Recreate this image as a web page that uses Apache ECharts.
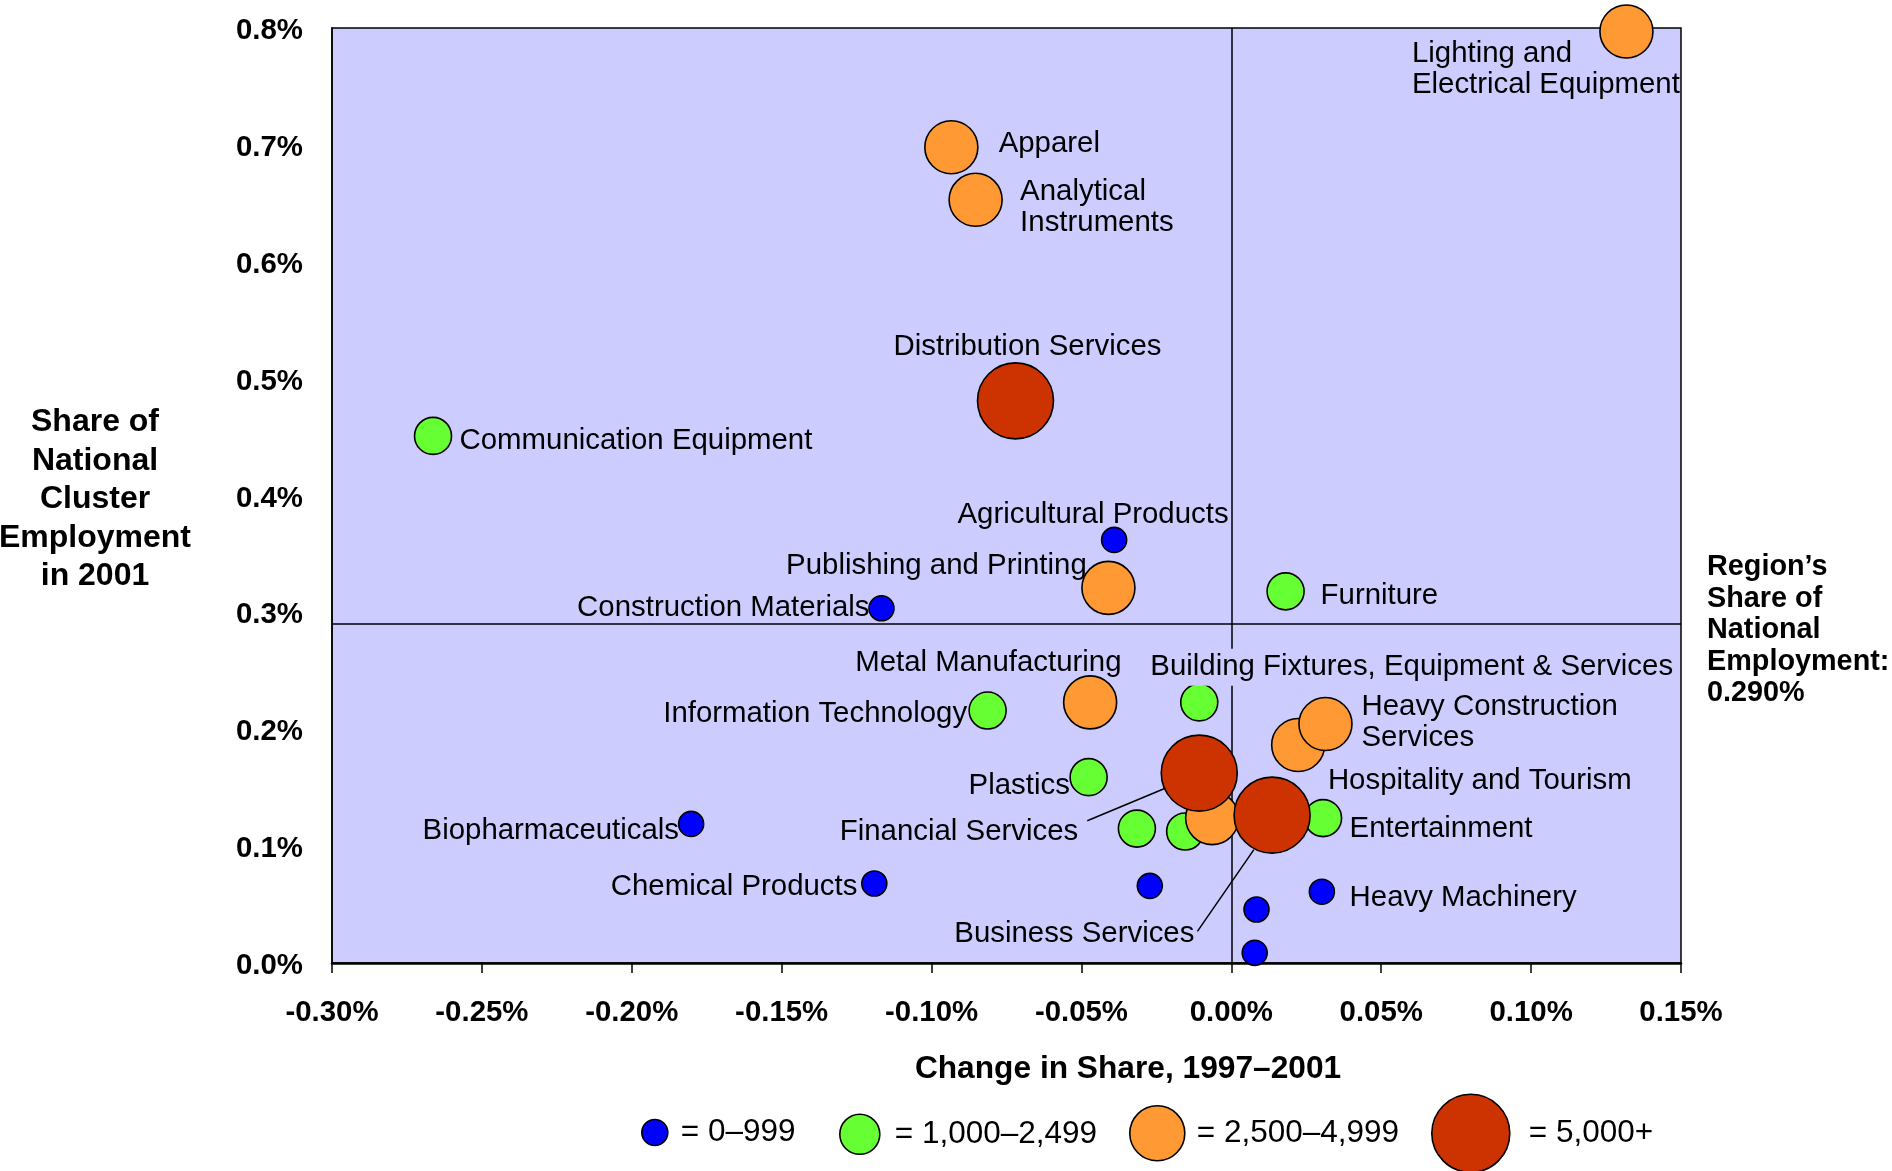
<!DOCTYPE html>
<html>
<head>
<meta charset="utf-8">
<script src="https://cdn.jsdelivr.net/npm/echarts@6/dist/echarts.min.js"></script>
<style>
  html, body { margin: 0; padding: 0; background: #ffffff; }
  #chart { width: 1892px; height: 1171px; }
</style>
</head>
<body>
<div id="chart"></div>
<script>
// ---------------- DATA ----------------
const clusterNames = [
  'Lighting and\nElectrical Equipment', 'Apparel', 'Analytical\nInstruments',
  'Distribution Services', 'Communication Equipment', 'Agricultural Products',
  'Publishing and Printing', 'Construction Materials', 'Furniture',
  'Metal Manufacturing', 'Building Fixtures, Equipment & Services',
  'Information Technology', 'Hospitality and Tourism', 'Heavy Construction\nServices',
  'Plastics', 'Financial Services', '', 'Business Services', '', '',
  'Entertainment', 'Biopharmaceuticals', 'Chemical Products', '',
  'Heavy Machinery', '', ''
];
// Change in share 1997-2001 (percentage points)
const changeInShare = [
  0.1318, -0.0934, -0.0853,
  -0.0720, -0.2663, -0.0391,
  -0.0410, -0.1167, 0.0181,
  -0.0471, -0.0107,
  -0.0813, 0.0223, 0.0314,
  -0.0476, -0.0107, -0.0064, 0.0136, -0.0315, -0.0154,
  0.0306, -0.1802, -0.1191, -0.0272,
  0.0302, 0.0084, 0.0078
];
// Share of national cluster employment in 2001 (%)
const shareOfNational = [
  0.797, 0.698, 0.653,
  0.481, 0.451, 0.362,
  0.321, 0.3035, 0.318,
  0.223, 0.223,
  0.216, 0.1865, 0.2045,
  0.159, 0.1625, 0.124, 0.1265, 0.115, 0.1125,
  0.124, 0.119, 0.068, 0.066,
  0.061, 0.0458, 0.0087
];
// Employment size class index (0: 0-999, 1: 1,000-2,499, 2: 2,500-4,999, 3: 5,000+)
const sizeClass = [
  2, 2, 2,
  3, 1, 0,
  2, 0, 1,
  2, 1,
  1, 2, 2,
  1, 3, 2, 3, 1, 1,
  1, 0, 0, 0,
  0, 0, 0
];
const sizeClassLabels = ['0\u2013999', '1,000\u20132,499', '2,500\u20134,999', '5,000+'];
const regionShare = 0.29;
const xMin = -0.30, xMax = 0.15, xStep = 0.05;
const yMin = 0, yMax = 0.8, yStep = 0.1;

// ---------------- STYLE ----------------
const FONT = '"Liberation Sans", Arial, Helvetica, sans-serif';
const classColors = ['#0000FF', '#66FF33', '#FF9933', '#CC3300'];
const classSizes = [25, 37, 53, 76];
const legendSizes = [26, 40, 55, 78];
const legendLeft = [641, 839, 1129, 1431];
const legendTextGap = [8, 10, 7, 14];
const legendTopCenter = [1132, 1133.5, 1132.5, 1132.5];
const LABEL_DY = 2.4;

// label placement: [align, dx, dy] relative to bubble centre (pixels)
const labelPlacement = {
  'Lighting and\nElectrical Equipment': ['left', -214.5, 35],
  'Apparel': ['left', 47.3, -6],
  'Analytical\nInstruments': ['left', 44.5, 5.5],
  'Distribution Services': ['center', 12, -56.5],
  'Communication Equipment': ['left', 26.5, 2.2],
  'Agricultural Products': ['right', 114.5, -27.7],
  'Publishing and Printing': ['right', -21.7, -24.1],
  'Construction Materials': ['right', -12, -2.4],
  'Furniture': ['left', 35, 2.5],
  'Metal Manufacturing': ['right', 31.4, -42.2],
  'Building Fixtures, Equipment & Services': ['left', -48.9, -37.4],
  'Information Technology': ['right', -20.5, 1.3],
  'Hospitality and Tourism': ['left', 29.7, 33.4],
  'Heavy Construction\nServices': ['left', 36, -3.6],
  'Plastics': ['right', -18.8, 6.1],
  'Financial Services': ['right', -121, 56],
  'Business Services': ['right', -77.7, 116.2],
  'Entertainment': ['left', 26.5, 8.5],
  'Biopharmaceuticals': ['right', -12.1, 4.9],
  'Chemical Products': ['right', -16.9, 1.2],
  'Heavy Machinery': ['left', 27.7, 3.7]
};
// leader lines: [name, startDx, startDy, endDx, endDy]
const leaderLines = [
  ['Financial Services', -112, 47.7, -34, 15.2],
  ['Business Services', -74.7, 116.2, -18.2, 34.5]
];

function buildItem(i) {
  const name = clusterNames[i];
  const item = { name: name, value: [changeInShare[i], shareOfNational[i]] };
  const pl = labelPlacement[name];
  if (pl) {
    const lab = {
      show: true,
      position: 'inside',
      align: pl[0],
      verticalAlign: 'middle',
      offset: [pl[1], pl[2] + LABEL_DY],
      formatter: '{b}'
    };
    if (name.indexOf('Building Fixtures') === 0) {
      lab.backgroundColor = '#CCCCFF';
      lab.padding = [3, 0, 3, 0];
    }
    item.label = lab;
  } else {
    item.label = { show: false };
  }
  return item;
}

const series = sizeClassLabels.map(function (lbl, c) {
  const data = [];
  for (let i = 0; i < clusterNames.length; i++) {
    if (sizeClass[i] === c) data.push(buildItem(i));
  }
  return {
    type: 'scatter',
    name: lbl,
    z: 2,
    symbol: 'circle',
    symbolSize: classSizes[c],
    itemStyle: { color: classColors[c], borderColor: '#000', borderWidth: 1.6, opacity: 1 },
    label: {
      color: '#000', fontFamily: FONT, fontSize: 29.4, lineHeight: 31
    },
    emphasis: { disabled: true },
    data: data
  };
});

// quadrant reference lines
series.push({
  type: 'scatter',
  name: '__ref',
  data: [],
  silent: true,
  markLine: {
    z: 1,
    silent: true,
    symbol: 'none',
    animation: false,
    label: { show: false },
    lineStyle: { color: '#000', width: 1.5, type: 'solid' },
    data: [{ xAxis: 0 }, { yAxis: regionShare }]
  }
});

const legends = sizeClassLabels.map(function (lbl, c) {
  const s = legendSizes[c];
  const rowH = Math.max(s, 31);
  return {
    data: [lbl],
    left: legendLeft[c],
    top: legendTopCenter[c] - rowH / 2,
    itemWidth: s,
    itemHeight: s,
    icon: 'circle',
    selectedMode: false,
    padding: 0,
    formatter: '= {name}',
    itemStyle: { borderColor: '#000', borderWidth: 1.6 },
    textStyle: { fontSize: 31.5, fontFamily: FONT, color: '#000', padding: [0, 0, 0, legendTextGap[c]] }
  };
});

const chart = echarts.init(document.getElementById('chart'), null, { renderer: 'canvas' });

const option = {
  animation: false,
  backgroundColor: '#ffffff',
  grid: {
    left: 332, right: 211, top: 28, bottom: 208,
    show: true, backgroundColor: '#CCCCFF', borderColor: '#000', borderWidth: 1.5,
    containLabel: false, outerBoundsMode: 'none'
  },
  xAxis: {
    type: 'value', min: xMin, max: xMax, interval: xStep,
    axisLine: { show: true, onZero: false, lineStyle: { color: '#000', width: 2.5 } },
    axisTick: { show: true, inside: false, length: 10, lineStyle: { color: '#000', width: 1.5 } },
    splitLine: { show: false },
    axisLabel: {
      margin: 35.5, color: '#000', fontFamily: FONT, fontWeight: 'bold', fontSize: 29.4,
      formatter: function (v) { return v.toFixed(2) + '%'; }
    }
  },
  yAxis: {
    type: 'value', min: yMin, max: yMax, interval: yStep,
    axisLine: { show: true, onZero: false, lineStyle: { color: '#000', width: 1.5 } },
    axisTick: { show: false },
    splitLine: { show: false },
    axisLabel: {
      margin: 29, color: '#000', fontFamily: FONT, fontWeight: 'bold', fontSize: 29.4,
      formatter: function (v) { return '{t|' + v.toFixed(1) + '%}'; },
      rich: {
        t: { fontFamily: FONT, fontWeight: 'bold', fontSize: 29.4, color: '#000', padding: [6, 0, 0, 0] }
      }
    }
  },
  legend: legends,
  series: series,
  graphic: [
    {
      id: 'ytitle', type: 'text', silent: true,
      style: {
        text: 'Share of\nNational\nCluster\nEmployment\nin 2001',
        x: 95, y: 499.5, textAlign: 'center', textVerticalAlign: 'middle',
        fill: '#000', fontFamily: FONT, fontWeight: 'bold', fontSize: 32, lineHeight: 38.5
      }
    },
    {
      id: 'xtitle', type: 'text', silent: true,
      style: {
        text: 'Change in Share, 1997\u20132001',
        x: 1128, y: 1069.5, textAlign: 'center', textVerticalAlign: 'middle',
        fill: '#000', fontFamily: FONT, fontWeight: 'bold', fontSize: 31.7
      }
    },
    {
      id: 'regiontitle', type: 'text', silent: true,
      style: {
        text: 'Region\u2019s\nShare of\nNational\nEmployment:\n' + regionShare.toFixed(3) + '%',
        x: 1707, y: 630.5, textAlign: 'left', textVerticalAlign: 'middle',
        fill: '#000', fontFamily: FONT, fontWeight: 'bold', fontSize: 28.8, lineHeight: 31.5
      }
    }
  ]
};
chart.setOption(option);

// leader lines anchored to their data points via the axes
const leaderGraphics = leaderLines.map(function (ll, k) {
  const idx = clusterNames.indexOf(ll[0]);
  const p = chart.convertToPixel({ xAxisIndex: 0, yAxisIndex: 0 }, [changeInShare[idx], shareOfNational[idx]]);
  return {
    id: 'leader' + k, type: 'line', silent: true, z: 10,
    shape: { x1: p[0] + ll[1], y1: p[1] + ll[2], x2: p[0] + ll[3], y2: p[1] + ll[4] },
    style: { stroke: '#000', lineWidth: 1.5 }
  };
});
chart.setOption({ graphic: leaderGraphics });
</script>
</body>
</html>
